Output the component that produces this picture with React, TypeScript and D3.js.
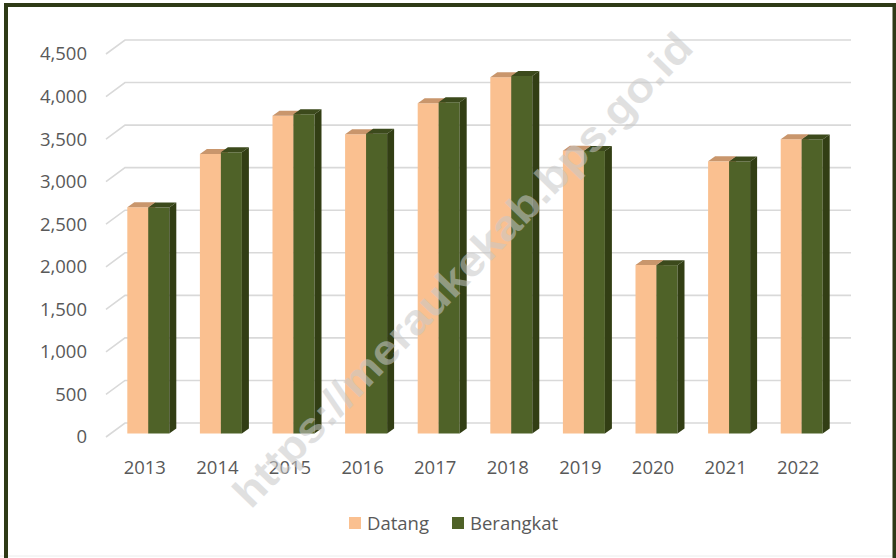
import React from "react";
import * as d3 from "d3";

const width = 896;
const height = 558;

// data
const years = ["2013", "2014", "2015", "2016", "2017", "2018", "2019", "2020", "2021", "2022"];
const datang = [2658, 3284, 3734, 3516, 3880, 4186, 3323, 1980, 3198, 3457];
const berangkat = [2655, 3304, 3751, 3523, 3892, 4201, 3320, 1978, 3196, 3455];
const seriesNames = ["Datang", "Berangkat"];
const yTicks = [0, 500, 1000, 1500, 2000, 2500, 3000, 3500, 4000, 4500];

const font = "'Open Sans', 'Noto Sans', sans-serif";
const wall = { dx: 19, dy: -14 }; // floor depth offset (front -> back wall)
const barShift = { dx: 6, dy: -3.5 }; // bar front face relative to floor front
const barDepth = { dx: 7, dy: -5 };
const barW = 21;

const colors = {
  datang: { front: "#fac090", top: "#c9966c", side: "#b9865e" },
  berangkat: { front: "#4f6228", top: "#3c4a1c", side: "#323e14" },
};

const x = d3.scaleBand().domain(years).range([106, 832]);
const y = d3.scaleLinear().domain([0, 4500]).range([437, 54]);
const fmt = d3.format(",");

const pts = (p: number[][]) => p.map((d) => d.join(",")).join(" ");

const Bar = ({ x0, v, c }: { x0: number; v: number; c: any }) => {
  const yb = y(0) + barShift.dy;
  const yt = y(v) + barShift.dy;
  const x1 = x0 + barW;
  const { dx, dy } = barDepth;
  return (
    <g>
      <rect x={x0} y={yt} width={barW} height={yb - yt} fill={c.front} />
      <polygon points={pts([[x0, yt], [x0 + dx, yt + dy], [x1 + dx, yt + dy], [x1, yt]])} fill={c.top} />
      <polygon points={pts([[x1, yt], [x1 + dx, yt + dy], [x1 + dx, yb + dy], [x1, yb]])} fill={c.side} />
    </g>
  );
};

export default function App() {
  return (
    <svg width={width} height={height} style={{ position: "absolute", left: 0, top: 0 }} fontFamily={font}>
      <rect x={0} y={0} width={width} height={height} fill="#fff" />

      {/* gridlines on floor edge + back wall */}
      {yTicks.map((t) => (
        <polyline
          key={t}
          points={pts([[106, y(t)], [106 + wall.dx, y(t) + wall.dy], [832 + wall.dx, y(t) + wall.dy]])}
          fill="none"
          stroke="#d9d9d9"
          strokeWidth={1.6}
        />
      ))}

      {/* y labels */}
      {yTicks.map((t) => (
        <text key={t} x={87} y={y(t)} dy="0.35em" textAnchor="end" fontSize={18.5} fill="#595959">
          {fmt(t)}
        </text>
      ))}

      {/* bars */}
      {years.map((yr, i) => {
        const cx = (x(yr) as number) + x.bandwidth() / 2 + barShift.dx;
        return (
          <g key={yr}>
            <Bar x0={cx - barW} v={datang[i]} c={colors.datang} />
            <Bar x0={cx} v={berangkat[i]} c={colors.berangkat} />
          </g>
        );
      })}

      {/* x labels */}
      {years.map((yr) => (
        <text
          key={yr}
          x={(x(yr) as number) + x.bandwidth() / 2 + 2.5}
          y={474}
          textAnchor="middle"
          fontSize={18.5}
          fill="#595959"
        >
          {yr}
        </text>
      ))}

      {/* legend */}
      {seriesNames.map((s, i) => {
        const lx = i === 0 ? 349 : 452;
        return (
          <g key={s}>
            <rect x={lx} y={517} width={12} height={12} fill={i === 0 ? colors.datang.front : colors.berangkat.front} />
            <text x={lx + 18} y={529.5} fontSize={18.5} fill="#595959">
              {s}
            </text>
          </g>
        );
      })}

      {/* watermark */}
      <text
        x={465}
        y={272}
        textAnchor="middle"
        dominantBaseline="middle"
        transform="rotate(-46 465 272)"
        fontFamily="'Liberation Sans', Arial, sans-serif"
        fontWeight="bold"
        fontSize={42}
        fill="#c8c8c8"
        opacity={0.55}
        textLength={640}
        lengthAdjust="spacingAndGlyphs"
      >
        https://meraukekab.bps.go.id
      </text>

      {/* frame */}
      <line x1={0} y1={556} x2={width} y2={556} stroke="#ececec" strokeWidth={1} />
      <path d={`M6,${height} V5 H894.5 V${height}`} fill="none" stroke="#2e3a16" strokeWidth={4} />
    </svg>
  );
}
